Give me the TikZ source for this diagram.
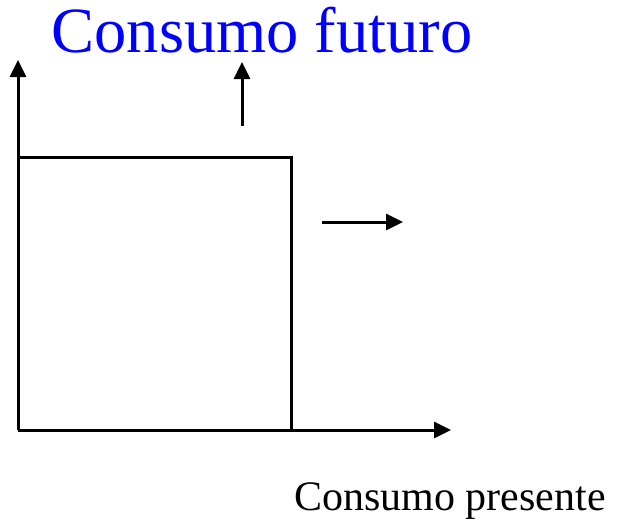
\documentclass[tikz,border=0pt]{standalone}
\usepackage{fontspec}
\setmainfont{Liberation Serif}
\usetikzlibrary{arrows.meta}
\begin{document}
\begin{tikzpicture}[x=1pt,y=-1pt,
  axis/.style={line width=3pt,-{Triangle[length=17pt,width=16pt]}},
  edge/.style={line width=3pt},
  txt/.style={inner sep=0pt,anchor=base}]
\useasboundingbox (0,0) rectangle (617,522);
\coordinate (O) at (18,430);
\coordinate (Ytip) at (18,60);
\coordinate (Xtip) at (451,430);
\coordinate (TL) at (18,157);
\coordinate (TR) at (291,157);
\coordinate (BR) at (291,430);
\coordinate (U0) at (242,126);
\coordinate (U1) at (242,62);
\coordinate (R0) at (322,222);
\coordinate (R1) at (403,222);
\draw[axis] (O) -- (Ytip);
\draw[axis] (O) -- (Xtip);
\draw[edge,line join=miter] (TL) -- (TR) -- (BR);
\draw[axis] (U0) -- (U1);
\draw[axis] (R0) -- (R1);
\node[txt,text=blue,font=\fontsize{64.5}{72}\selectfont] (title) at (262,52) {Consumo futuro};
\node[txt,font=\fontsize{42}{48}\selectfont] (xlabel) at (450,510) {Consumo presente};
\end{tikzpicture}
\end{document}
